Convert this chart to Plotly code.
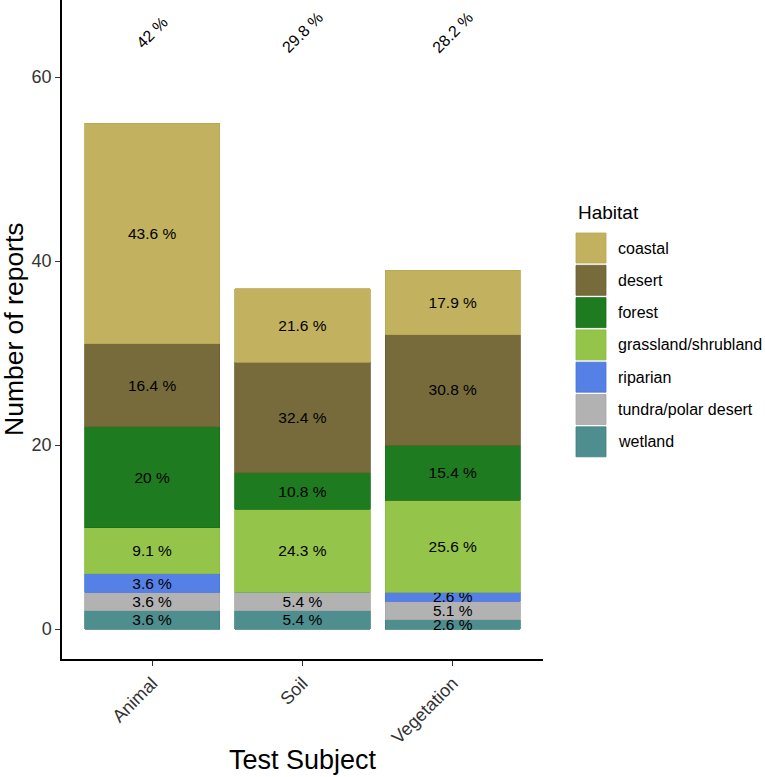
import plotly.graph_objects as go

subjects = ["Animal", "Soil", "Vegetation"]
habitats = ["coastal", "desert", "forest", "grassland/shrubland", "riparian",
            "tundra/polar desert", "wetland"]
coastal = [24, 8, 7]
desert = [9, 12, 12]
forest = [11, 4, 6]
grassland = [5, 9, 10]
riparian = [2, 0, 1]
tundra = [2, 2, 2]
wetland = [2, 2, 1]
top_labels = ["42 %", "29.8 %", "28.2 %"]
y_ticks = [0, 20, 40, 60]

values = {
    "coastal": coastal, "desert": desert, "forest": forest,
    "grassland/shrubland": grassland, "riparian": riparian,
    "tundra/polar desert": tundra, "wetland": wetland,
}
fills = {
    "coastal": "#C2B15E", "desert": "#776B3C", "forest": "#1F7B1F",
    "grassland/shrubland": "#94C44A", "riparian": "#5580E6",
    "tundra/polar desert": "#B2B2B2", "wetland": "#4F8E8E",
}
lines = {
    "coastal": "#B9A64F", "desert": "#6C602F", "forest": "#1A6F1A",
    "grassland/shrubland": "#89BB3C", "riparian": "#4A74DE",
    "tundra/polar desert": "#A6A6A6", "wetland": "#437F7F",
}

totals = [sum(values[h][i] for h in habitats) for i in range(len(subjects))]

FONT = "Liberation Sans, Arial, sans-serif"

fig = go.Figure()
for h in reversed(habitats):
    vals = values[h]
    txt = [f"{round(v / t * 100, 1):g} %" if v > 0 else "" for v, t in zip(vals, totals)]
    fig.add_trace(go.Bar(
        x=subjects, y=vals, name=h, width=0.9,
        marker=dict(color=fills[h], line=dict(color=lines[h], width=0.8)),
        text=txt, textposition="inside", insidetextanchor="middle",
        textangle=0, constraintext="none",
        textfont=dict(family=FONT, size=15.5, color="black"),
        showlegend=False, hoverinfo="x+y+name",
    ))

annotations = []
for s, lab in zip(subjects, top_labels):
    annotations.append(dict(x=s, y=64.8, xref="x", yref="y", text=lab,
                            showarrow=False, textangle=-45,
                            font=dict(family=FONT, size=16, color="black")))

# axis titles
annotations.append(dict(x=(13.5 - 62) / 481, y=0.5, xref="paper", yref="paper",
                        text="Number of reports", textangle=-90, showarrow=False,
                        xanchor="center", yanchor="middle",
                        font=dict(family=FONT, size=26.5, color="black")))
annotations.append(dict(x=0.5, y=-0.153, xref="paper", yref="paper",
                        text="Test Subject", showarrow=False,
                        xanchor="center", yanchor="middle",
                        font=dict(family=FONT, size=27, color="black")))

# manual legend (paper coordinates)
plot_left, plot_w, plot_bottom_px, plot_h = 62, 481, 659, 659
def px_x(p):
    return (p - plot_left) / plot_w
def px_y(p):
    return (plot_bottom_px - p) / plot_h

shapes = []
annotations.append(dict(x=px_x(576), y=px_y(213), xref="paper", yref="paper",
                        text="Habitat", showarrow=False, xanchor="left", yanchor="middle",
                        font=dict(family=FONT, size=19, color="black")))
for i, h in enumerate(habitats):
    top = 233 + 32.3 * i
    shapes.append(dict(type="rect", xref="paper", yref="paper",
                       x0=px_x(576), x1=px_x(606), y0=px_y(top + 30), y1=px_y(top),
                       fillcolor=fills[h], line=dict(color=lines[h], width=0.8)))
    annotations.append(dict(x=px_x(616), y=px_y(top + 15), xref="paper", yref="paper",
                            text=h, showarrow=False, xanchor="left", yanchor="middle",
                            font=dict(family=FONT, size=16, color="black")))

fig.update_layout(
    width=765, height=777,
    margin=dict(l=62, r=222, t=0, b=118),
    barmode="stack",
    plot_bgcolor="white", paper_bgcolor="white",
    showlegend=False,
    uniformtext=dict(minsize=15.5, mode="show"),
    annotations=annotations, shapes=shapes,
    font=dict(family=FONT),
)
fig.update_xaxes(
    range=[-0.6, 2.6], showline=True, linecolor="black", linewidth=1.5,
    ticks="outside", ticklen=5, tickcolor="#333333", tickwidth=1.2,
    tickangle=-45, tickfont=dict(family=FONT, size=18, color="#333333"),
    showgrid=False, zeroline=False,
)
fig.update_yaxes(
    range=[-3.26, 68.37], tickvals=y_ticks, showline=True, linecolor="black",
    linewidth=1.5, ticks="outside", ticklen=5, tickcolor="#333333", tickwidth=1.2,
    tickfont=dict(family=FONT, size=18, color="#333333"),
    showgrid=False, zeroline=False,
)

fig.write_html(
    "out.html",
    config={"displayModeBar": False},
    post_script="document.body.style.margin='0';document.body.style.overflow='hidden';",
)
